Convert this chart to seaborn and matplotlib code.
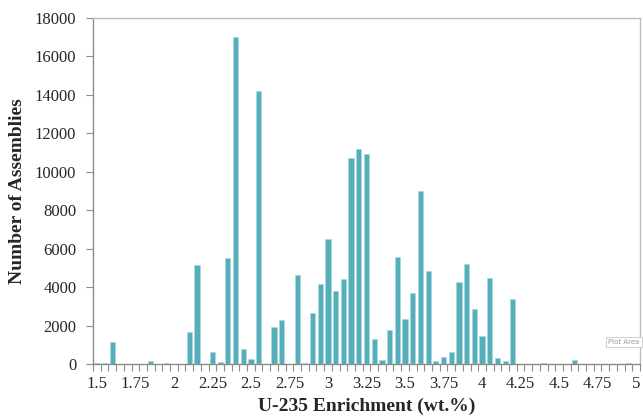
import matplotlib
matplotlib.use("Agg")
import matplotlib.pyplot as plt
import seaborn as sns
import pandas as pd
import numpy as np

enrichment = ["1.5", "1.55", "1.6", "1.65", "1.7", "1.75", "1.8", "1.85", "1.9", "1.95",
              "2", "2.05", "2.1", "2.15", "2.2", "2.25", "2.3", "2.35", "2.4", "2.45",
              "2.5", "2.55", "2.6", "2.65", "2.7", "2.75", "2.8", "2.85", "2.9", "2.95",
              "3", "3.05", "3.1", "3.15", "3.2", "3.25", "3.3", "3.35", "3.4", "3.45",
              "3.5", "3.55", "3.6", "3.65", "3.7", "3.75", "3.8", "3.85", "3.9", "3.95",
              "4", "4.05", "4.1", "4.15", "4.2", "4.25", "4.3", "4.35", "4.4", "4.45",
              "4.5", "4.55", "4.6", "4.65", "4.7", "4.75", "4.8", "4.85", "4.9", "4.95", "5"]
assemblies = [40, 40, 1150, 0, 0, 0, 0, 150, 0, 40,
              0, 0, 1650, 5150, 0, 650, 130, 5500, 17000, 780,
              280, 14200, 0, 1950, 2300, 0, 4650, 60, 2650, 4150,
              6500, 3800, 4400, 10700, 11200, 10950, 1300, 230, 1780, 5550,
              2350, 3680, 8980, 4850, 180, 340, 650, 4280, 5200, 2880,
              1450, 4480, 330, 180, 3400, 0, 0, 0, 50, 0,
              0, 0, 220, 0, 0, 0, 0, 0, 0, 50, 0]
xtick_labels = ["1.5", "1.75", "2", "2.25", "2.5", "2.75", "3", "3.25", "3.5", "3.75",
                "4", "4.25", "4.5", "4.75", "5"]
yticks = [0, 2000, 4000, 6000, 8000, 10000, 12000, 14000, 16000, 18000]

df = pd.DataFrame({"Enrichment": enrichment, "Assemblies": assemblies})

sns.set_theme(style="white")
plt.rcParams["font.family"] = ["Liberation Serif", "DejaVu Serif"]

fig = plt.figure(figsize=(6.43, 4.17), dpi=100)
ax = fig.add_axes([93 / 643, (417 - 364) / 417, (640 - 93) / 643, (364 - 18) / 417])

sns.barplot(data=df, x="Enrichment", y="Assemblies", order=enrichment,
            color="#55AFBA", saturation=1, width=0.68,
            edgecolor="#A9D8DE", linewidth=0.5, ax=ax)

ax.set_xlim(-0.5, len(enrichment) - 0.5)
ax.set_ylim(0, 18000)
ax.set_yticks(yticks)
ax.set_yticklabels([str(v) for v in yticks], fontsize=12)

label_pos = [enrichment.index(l) for l in xtick_labels]
ax.set_xticks(label_pos)
ax.set_xticklabels(xtick_labels, fontsize=12)
ax.set_xticks(np.arange(-0.5, len(enrichment), 1.0), minor=True)
ax.tick_params(axis="x", which="major", length=0, pad=9)
ax.tick_params(axis="x", which="minor", length=5, width=0.8, color="#8c8c8c", direction="out", bottom=True)
ax.tick_params(axis="y", which="major", length=5, width=0.8, color="#8c8c8c", direction="out", left=True, pad=7)

for side in ["left", "bottom"]:
    ax.spines[side].set_color("#8c8c8c")
    ax.spines[side].set_linewidth(1.0)
for side in ["top", "right"]:
    ax.spines[side].set_color("#bdbdbd")
    ax.spines[side].set_linewidth(1.0)

ax.set_xlabel("U-235 Enrichment (wt.%)", fontsize=14, fontweight="bold", labelpad=4)
ax.set_ylabel("Number of Assemblies", fontsize=14, fontweight="bold", labelpad=6)

fig.text(624 / 643, 1 - 342 / 417, "Plot Area", fontsize=5, color="#9a9a9a",
         ha="center", va="center", family=["DejaVu Sans"],
         bbox=dict(boxstyle="square,pad=0.3", fc="white", ec="#c8c8c8", lw=0.6))

fig.savefig("out.png", dpi=100)
